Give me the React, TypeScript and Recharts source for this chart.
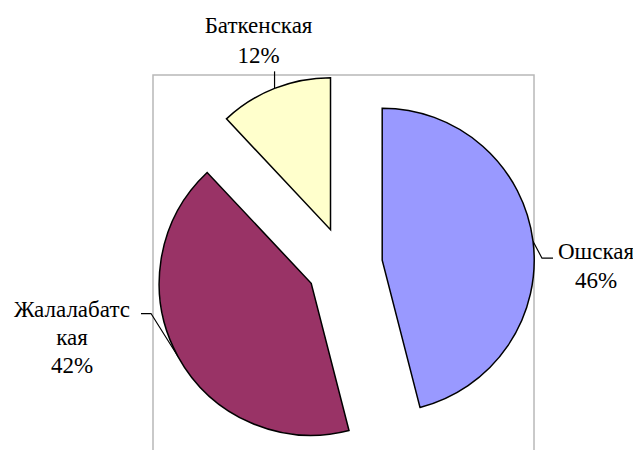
import React from 'react';
import { PieChart, Pie, Cell } from 'recharts';

// slice data
const regions = ['Ошская', 'Жалалабатская', 'Баткенская'];
const shares = [46, 42, 12];
const labelText = [['Ошская'], ['Жалалабатс', 'кая'], ['Баткенская']];
const fills = ['#9999FF', '#993366', '#FFFFCC'];

const data = regions.map((name, i) => ({ name, value: shares[i] }));
const total = shares.reduce((a, b) => a + b, 0);

// mid angle of every slice (clockwise from 12 o'clock) -> used to explode it
const midAngles: number[] = [];
let acc = 90;
shares.forEach((v) => {
    const sweep = (v / total) * 360;
    midAngles.push(acc - sweep / 2);
    acc -= sweep;
});

const RAD = Math.PI / 180;
const CX = 344.5;
const CY = 265;
const R = 152;
const EXPLODE = 38;

// label placement relative to the point on the arc at the slice middle
const labelLayout = [
    { line: [[0, 0], [9, 17], [20, 17]], dx: 63, dy: [18, 47] },
    { line: [[0, 0], [-27, -43], [-37, -43]], dx: -106, dy: [-40, -12, 16] },
    { line: [[0, 0], [0, -17]], dx: -16, dy: [-55, -25] },
];

export default function App() {
    return (
        <div style={{ marginLeft: -8, marginTop: -8 }}>
            <PieChart width={641} height={450} margin={{ top: 0, right: 0, bottom: 0, left: 0 }}>
                {/* plot area frame */}
                <rect x={153} y={75} width={381} height={420} fill="none" stroke="#b8b8b8" strokeWidth={1.5} />
                {shares.map((_, i) => (
                    <Pie
                        key={i}
                        data={data}
                        dataKey="value"
                        nameKey="name"
                        cx={CX + EXPLODE * Math.cos(midAngles[i] * RAD)}
                        cy={CY - EXPLODE * Math.sin(midAngles[i] * RAD)}
                        outerRadius={R}
                        startAngle={90}
                        endAngle={-270}
                        labelLine={false}
                        isAnimationActive={false}
                    >
                        {data.map((_, j) => (
                            <Cell
                                key={j}
                                fill={j === i ? fills[j] : 'none'}
                                stroke={j === i ? '#000' : 'none'}
                                strokeWidth={1.5}
                            />
                        ))}
                    </Pie>
                ))}
                {shares.map((v, i) => {
                    const px = CX + (EXPLODE + R) * Math.cos(midAngles[i] * RAD);
                    const py = CY - (EXPLODE + R) * Math.sin(midAngles[i] * RAD);
                    const lay = labelLayout[i];
                    const pts = lay.line.map(([x, y]) => `${px + x},${py + y}`).join(' ');
                    const lines = [...labelText[i], `${v}%`];
                    return (
                        <g key={`lbl-${i}`}>
                            <polyline points={pts} fill="none" stroke="#000" strokeWidth={1.2} />
                            {lines.map((t, k) => (
                                <text
                                    key={k}
                                    x={px + lay.dx}
                                    y={py + lay.dy[k]}
                                    textAnchor="middle"
                                    fill="#000"
                                    fontFamily="Liberation Serif, serif"
                                    fontSize="23px"
                                >
                                    {t}
                                </text>
                            ))}
                        </g>
                    );
                })}
            </PieChart>
        </div>
    );
}
